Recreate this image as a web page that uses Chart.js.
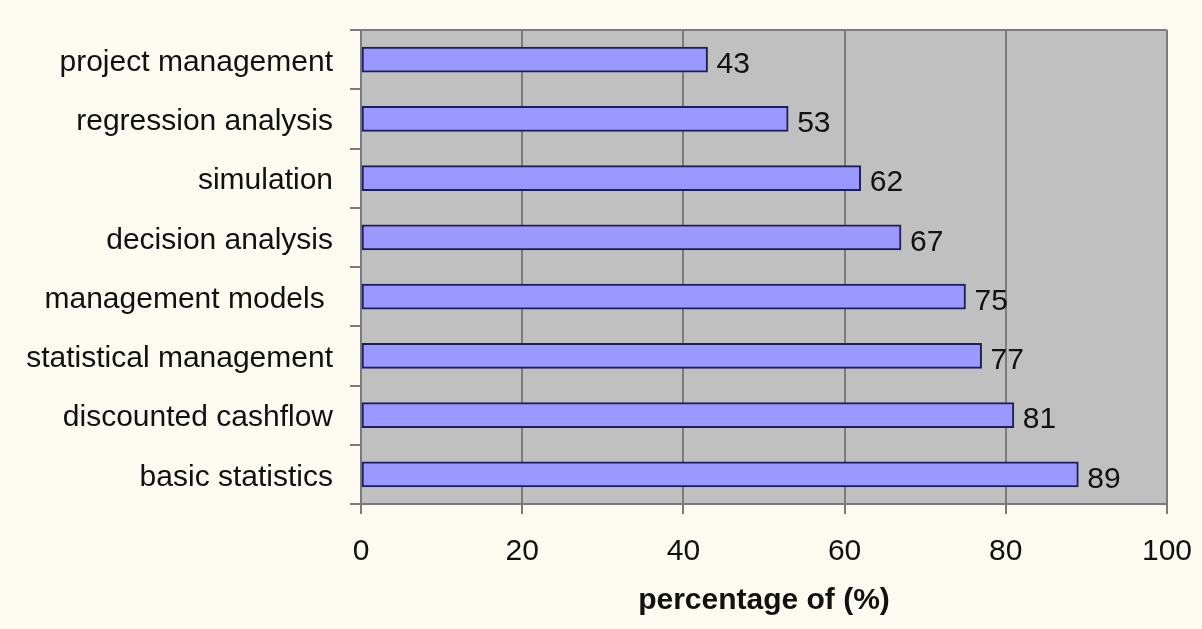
<!DOCTYPE html>
<html>
<head>
<meta charset="utf-8">
<title>percentage of (%)</title>
<script src="https://cdn.jsdelivr.net/npm/chart.js@4.4.1/dist/chart.umd.min.js"></script>
<style>
  html, body { margin: 0; padding: 0; background: #fdfaf1; }
  #wrap { width: 1202px; height: 629px; }
  canvas { display: block; }
</style>
</head>
<body>
<div id="wrap"><canvas id="chart" width="1202" height="629"></canvas></div>
<script>
// Topics, listed top to bottom
const categories = [
  'project management',
  'regression analysis',
  'simulation',
  'decision analysis',
  'management models ',
  'statistical management',
  'discounted cashflow',
  'basic statistics'
];
// Share of respondents (%) for each topic
const values = [43, 53, 62, 67, 75, 77, 81, 89];
// Value-axis range and tick step
const xMin = 0;
const xMax = 100;
const xStep = 20;
const xTitle = 'percentage of (%)';

const FONT = '"Liberation Sans", Arial, sans-serif';
const GRID = '#7b7b7b';

// Grey plot background plus the top edge of the frame
const plotFrame = {
  id: 'plotFrame',
  beforeDraw(chart) {
    const { ctx, chartArea: a } = chart;
    ctx.save();
    ctx.fillStyle = '#c0c0c0';
    ctx.fillRect(a.left, a.top, a.right - a.left, a.bottom - a.top);
    ctx.restore();
  },
  afterDraw(chart) {
    const { ctx, chartArea: a } = chart;
    ctx.save();
    ctx.strokeStyle = GRID;
    ctx.lineWidth = 2;
    ctx.beginPath();
    ctx.moveTo(a.left, a.top);
    ctx.lineTo(a.right, a.top);
    ctx.stroke();
    ctx.restore();
  }
};

// Value printed just past the end of each bar
const barValues = {
  id: 'barValues',
  afterDatasetsDraw(chart) {
    const { ctx } = chart;
    const meta = chart.getDatasetMeta(0);
    ctx.save();
    ctx.font = '30px ' + FONT;
    ctx.fillStyle = '#111111';
    ctx.textAlign = 'left';
    ctx.textBaseline = 'middle';
    meta.data.forEach((bar, i) => {
      ctx.fillText(String(values[i]), bar.x + 9, bar.y + 5);
    });
    ctx.restore();
  }
};

new Chart(document.getElementById('chart'), {
  type: 'bar',
  data: {
    labels: categories,
    datasets: [{
      data: values,
      backgroundColor: '#9999ff',
      borderColor: '#1e1e5a',
      borderWidth: 2,
      borderSkipped: false,
      barThickness: 25
    }]
  },
  options: {
    indexAxis: 'y',
    responsive: false,
    animation: false,
    devicePixelRatio: 1,
    layout: { padding: { top: 30, right: 35, left: 0, bottom: 0 } },
    plugins: {
      legend: { display: false },
      tooltip: { enabled: false }
    },
    scales: {
      x: {
        min: xMin,
        max: xMax,
        afterFit(scale) {
          scale.height = 125;
          scale.paddingLeft = 0;
          scale.paddingRight = 0;
        },
        ticks: {
          stepSize: xStep,
          padding: 20,
          color: '#111111',
          font: { family: FONT, size: 30 }
        },
        grid: {
          color: GRID,
          lineWidth: 2,
          tickLength: 10,
          drawOnChartArea: true
        },
        border: { color: GRID, width: 2 },
        title: {
          display: true,
          text: xTitle,
          color: '#111111',
          font: { family: FONT, size: 30, weight: 'bold' },
          padding: { top: 0, bottom: 10 }
        }
      },
      y: {
        afterFit(scale) {
          scale.width = 361;
          scale.paddingTop = 0;
          scale.paddingBottom = 0;
        },
        ticks: {
          padding: 17,
          labelOffset: 3,
          color: '#111111',
          font: { family: FONT, size: 30 }
        },
        grid: {
          color: GRID,
          lineWidth: 2,
          tickLength: 11,
          offset: true,
          drawOnChartArea: false
        },
        border: { color: GRID, width: 2 }
      }
    }
  },
  plugins: [plotFrame, barValues]
});
</script>
</body>
</html>
